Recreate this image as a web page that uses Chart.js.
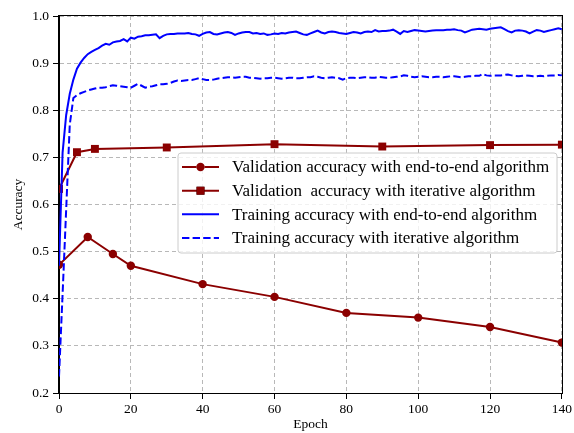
<!DOCTYPE html>
<html><head><meta charset="utf-8">
<script src="https://cdn.jsdelivr.net/npm/chart.js@4.4.0/dist/chart.umd.min.js"></script>
<style>html,body{margin:0;padding:0;background:#fff;} #wrap{width:574px;height:433px;position:relative;}</style>
</head><body><div id="wrap"><canvas id="c" width="574" height="433"></canvas></div>
<script>
const legendLabels = [
  "Validation accuracy with end-to-end algorithm",
  "Validation  accuracy with iterative algorithm",
  "Training accuracy with end-to-end algorithm",
  "Training accuracy with iterative algorithm"
];
const valE2EEpochs = [0, 8, 15, 20, 40, 60, 80, 100, 120, 140];
const valE2E = [0.472, 0.531, 0.495, 0.470, 0.431, 0.404, 0.370, 0.360, 0.340, 0.307];
const valIterEpochs = [0, 5, 10, 30, 60, 90, 120, 140];
const valIter = [0.633, 0.711, 0.718, 0.721, 0.728, 0.723, 0.726, 0.727];
const trainE2E = [
0.47,0.71,0.79,0.835,0.865,0.888,0.901,0.911,0.919,0.924,
0.928,0.932,0.937,0.941,0.939,0.944,0.946,0.947,0.951,0.946,
0.954,0.952,0.956,0.957,0.959,0.959,0.960,0.961,0.953,0.958,
0.961,0.962,0.962,0.963,0.963,0.963,0.964,0.962,0.961,0.958,
0.962,0.965,0.966,0.962,0.961,0.963,0.965,0.966,0.964,0.960,
0.963,0.965,0.966,0.966,0.963,0.964,0.962,0.963,0.960,0.961,
0.963,0.962,0.964,0.963,0.965,0.966,0.967,0.964,0.961,0.960,
0.963,0.966,0.969,0.965,0.963,0.966,0.967,0.966,0.964,0.963,
0.962,0.964,0.966,0.965,0.963,0.966,0.967,0.966,0.970,0.967,
0.968,0.968,0.969,0.971,0.967,0.962,0.968,0.966,0.968,0.970,
0.969,0.968,0.967,0.968,0.969,0.970,0.970,0.970,0.971,0.971,
0.972,0.970,0.969,0.965,0.968,0.971,0.972,0.973,0.972,0.971,
0.973,0.974,0.975,0.976,0.972,0.968,0.965,0.969,0.970,0.969,
0.967,0.963,0.967,0.970,0.969,0.966,0.968,0.970,0.972,0.974,
0.972];
const trainIter = [
0.235,0.41,0.59,0.77,0.826,0.832,0.836,0.839,0.842,0.844,
0.846,0.848,0.848,0.849,0.851,0.853,0.852,0.851,0.850,0.849,
0.848,0.852,0.856,0.852,0.848,0.850,0.851,0.853,0.855,0.855,
0.856,0.858,0.861,0.863,0.862,0.863,0.864,0.864,0.866,0.868,
0.866,0.864,0.864,0.865,0.867,0.868,0.869,0.870,0.870,0.869,
0.870,0.871,0.871,0.869,0.869,0.868,0.867,0.868,0.868,0.869,
0.869,0.868,0.867,0.868,0.869,0.869,0.868,0.868,0.869,0.870,
0.870,0.872,0.871,0.869,0.868,0.869,0.870,0.869,0.868,0.865,
0.868,0.869,0.869,0.868,0.869,0.870,0.870,0.869,0.869,0.871,
0.870,0.869,0.869,0.870,0.871,0.872,0.874,0.873,0.871,0.870,
0.871,0.872,0.871,0.870,0.870,0.871,0.871,0.870,0.871,0.872,
0.872,0.871,0.870,0.871,0.872,0.872,0.873,0.873,0.877,0.874,
0.873,0.874,0.874,0.874,0.875,0.876,0.874,0.873,0.872,0.873,
0.874,0.873,0.872,0.872,0.873,0.872,0.873,0.874,0.874,0.875,
0.874];
const xTicks = [0, 20, 40, 60, 80, 100, 120, 140];
const yTicks = [0.2, 0.3, 0.4, 0.5, 0.6, 0.7, 0.8, 0.9, 1.0];

const RED = '#8b0000', BLUE = '#0000ff';
const SERIF = '"Liberation Serif", "Times New Roman", serif';

const pts = (xs, ys) => ys.map((v, i) => ({x: xs[i], y: v}));
const idxPts = ys => ys.map((v, i) => ({x: i, y: v}));

const datasets = [
  {label: legendLabels[0], data: pts(valE2EEpochs, valE2E), borderColor: RED, backgroundColor: RED,
   borderWidth: 2, pointStyle: 'circle', pointRadius: 4.2, pointBorderWidth: 0, order: 3},
  {label: legendLabels[1], data: pts(valIterEpochs, valIter), borderColor: RED, backgroundColor: RED,
   borderWidth: 2, pointStyle: 'rect', pointRadius: 5.6, pointBorderWidth: 0, order: 2},
  {label: legendLabels[2], data: idxPts(trainE2E), borderColor: BLUE, backgroundColor: BLUE,
   borderWidth: 2, pointRadius: 0, order: 1},
  {label: legendLabels[3], data: idxPts(trainIter), borderColor: BLUE, backgroundColor: BLUE,
   borderWidth: 2, borderDash: [7.4, 3.2], pointRadius: 0, order: 0}
];

const framePlugin = {
  id: 'frame',
  beforeDatasetsDraw(chart) {
    const {ctx, chartArea: a} = chart;
    ctx.save();
    ctx.beginPath();
    ctx.rect(a.left, a.top, a.right - a.left, a.bottom - a.top);
    ctx.clip();
  },
  afterDatasetsDraw(chart) {
    const {ctx, chartArea: a} = chart;
    ctx.restore();
    ctx.save();
    ctx.strokeStyle = '#000';
    ctx.lineWidth = 1;
    ctx.strokeRect(Math.round(a.left) - 0.5, Math.round(a.top) - 0.5,
                   Math.round(a.right - a.left) + 1, Math.round(a.bottom - a.top) + 1);
    ctx.restore();
  }
};

const legendPlugin = {
  id: 'boxLegend',
  afterDraw(chart) {
    const ctx = chart.ctx;
    const bx = 178, by = 153, bw = 379, bh = 100, r = 3;
    ctx.save();
    ctx.beginPath();
    ctx.moveTo(bx + r, by); ctx.lineTo(bx + bw - r, by); ctx.arcTo(bx + bw, by, bx + bw, by + r, r);
    ctx.lineTo(bx + bw, by + bh - r); ctx.arcTo(bx + bw, by + bh, bx + bw - r, by + bh, r);
    ctx.lineTo(bx + r, by + bh); ctx.arcTo(bx, by + bh, bx, by + bh - r, r);
    ctx.lineTo(bx, by + r); ctx.arcTo(bx, by, bx + r, by, r);
    ctx.closePath();
    ctx.fillStyle = 'rgba(255,255,255,0.8)';
    ctx.fill();
    ctx.strokeStyle = '#cccccc';
    ctx.lineWidth = 1;
    ctx.stroke();
    const rowY = [167, 190.7, 214.3, 238];
    chart.data.datasets.forEach((ds, i) => {
      const y = rowY[i];
      ctx.beginPath();
      ctx.setLineDash(ds.borderDash || []);
      ctx.strokeStyle = ds.borderColor;
      ctx.lineWidth = ds.borderWidth;
      ctx.moveTo(182, y); ctx.lineTo(219, y);
      ctx.stroke();
      ctx.setLineDash([]);
      if (ds.pointRadius > 0) {
        Chart.helpers.drawPoint(ctx, {pointStyle: ds.pointStyle, radius: ds.pointRadius, borderWidth: 0, rotation: 0}, 200.5, y);
        ctx.fillStyle = ds.backgroundColor;
        ctx.fill();
      }
      ctx.fillStyle = '#000';
      ctx.font = '17px ' + SERIF;
      ctx.textBaseline = 'middle';
      ctx.textAlign = 'left';
      ctx.fillText(ds.label, 232, y + 1);
    });
    ctx.restore();
  }
};

const gridCommon = {color: '#b8b8b8', lineWidth: 1, drawTicks: true, tickLength: 6,
                    tickColor: '#000', tickWidth: 1, tickBorderDash: []};
const borderCommon = {display: true, color: '#000', width: 1, dash: [4, 3]};

new Chart(document.getElementById('c'), {
  type: 'line',
  data: {datasets},
  plugins: [framePlugin, legendPlugin],
  options: {
    responsive: false, devicePixelRatio: 1, animation: false,
    layout: {padding: {top: 16, right: 10, left: 0, bottom: 0}},
    plugins: {legend: {display: false}, tooltip: {enabled: false}},
    scales: {
      x: {
        type: 'linear', min: 0, max: 140,
        afterBuildTicks: s => { s.ticks = xTicks.map(v => ({value: v})); },
        afterFit: s => { s.height = 40; },
        ticks: {color: '#000', font: {family: SERIF, size: 13.5}, padding: 2, maxRotation: 0,
                callback: v => String(v)},
        grid: gridCommon, border: borderCommon,
        title: {display: true, text: 'Epoch', color: '#000', font: {family: SERIF, size: 13.5},
                padding: {top: 0, bottom: 0}}
      },
      y: {
        type: 'linear', min: 0.2, max: 1.0,
        afterBuildTicks: s => { s.ticks = yTicks.map(v => ({value: v})); },
        afterFit: s => { s.width = 59; },
        ticks: {color: '#000', font: {family: SERIF, size: 13.5}, padding: 4,
                callback: v => Number(v).toFixed(1)},
        grid: gridCommon, border: borderCommon,
        title: {display: true, text: 'Accuracy', color: '#000', font: {family: SERIF, size: 13.5},
                padding: {top: 10, bottom: 0}}
      }
    }
  }
});
</script></body></html>
